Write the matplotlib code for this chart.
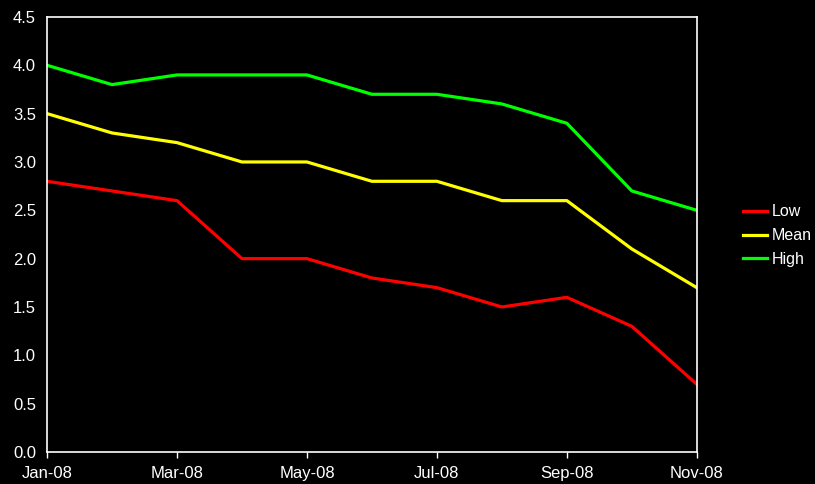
import matplotlib
matplotlib.use("Agg")
import matplotlib.pyplot as plt

# monthly values, Jan-08 .. Nov-08
months = ["Jan-08", "Feb-08", "Mar-08", "Apr-08", "May-08", "Jun-08",
          "Jul-08", "Aug-08", "Sep-08", "Oct-08", "Nov-08"]
low = [2.8, 2.7, 2.6, 2.0, 2.0, 1.8, 1.7, 1.5, 1.6, 1.3, 0.7]
mean = [3.5, 3.3, 3.2, 3.0, 3.0, 2.8, 2.8, 2.6, 2.6, 2.1, 1.7]
high = [4.0, 3.8, 3.9, 3.9, 3.9, 3.7, 3.7, 3.6, 3.4, 2.7, 2.5]
y_ticks = [0.0, 0.5, 1.0, 1.5, 2.0, 2.5, 3.0, 3.5, 4.0, 4.5]

plt.rcParams["font.family"] = ["Liberation Sans", "DejaVu Sans"]

fig = plt.figure(figsize=(8.15, 4.84), dpi=100, facecolor="black")
ax = fig.add_axes([0.0577, 0.0661, 0.855 - 0.0577, 0.965 - 0.0661])
ax.set_facecolor("black")

x = list(range(len(months)))
ax.plot(x, low, color="#ff0000", linewidth=2.3, label="Low")
ax.plot(x, mean, color="#ffff00", linewidth=2.3, label="Mean")
ax.plot(x, high, color="#00ff00", linewidth=2.3, label="High")

ax.set_xlim(0, len(months) - 1)
ax.set_ylim(0, 4.5)
ax.set_xticks(x[::2])
ax.set_xticklabels(months[::2])
ax.set_yticks(y_ticks)
ax.set_yticklabels([f"{v:.1f}" for v in y_ticks])

for s in ax.spines.values():
    s.set_color("white")
    s.set_linewidth(1.2)

ax.tick_params(axis="x", colors="white", labelsize=12, length=4, width=1, pad=6)
ax.tick_params(axis="y", colors="white", labelsize=12, length=0, pad=8)

leg = ax.legend(loc="center left", bbox_to_anchor=(1.049, 0.497), frameon=False,
                fontsize=11.5, handlelength=1.5, handletextpad=0.3,
                labelspacing=0.55, labelcolor="white")

fig.savefig("out.png", dpi=100, facecolor="black")
